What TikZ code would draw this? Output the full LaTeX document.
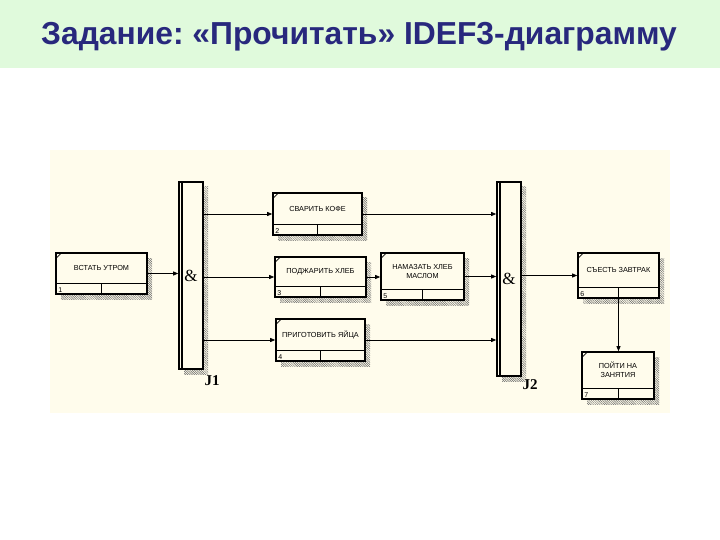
\documentclass[tikz,border=0pt]{standalone}
\usepackage{fontspec}
\setmainfont{Liberation Sans}
\newfontfamily\jfont{Liberation Serif}
\usetikzlibrary{arrows.meta,calc,shadows,patterns.meta}
\definecolor{bgcream}{RGB}{255,252,236}
\definecolor{bandgreen}{RGB}{224,250,220}
\definecolor{titleblue}{RGB}{40,40,125}
\frenchspacing

\begin{document}
\begin{tikzpicture}[x=1pt,y=-1pt,
    hatch/.style={drop shadow={shadow xshift=5pt,shadow yshift=-5pt,opacity=1,
        pattern={Lines[angle=-45,distance=1.6pt,line width=0.5pt]},pattern color=black!60}},
    uob/.style={draw,line width=1.6pt,fill=bgcream,hatch,inner sep=0pt},
    jbox/.style={uob,minimum width=24pt,font=\jfont\fontsize{17}{17}\selectfont},
    uobtext/.style={font=\fontsize{7.3}{9}\selectfont,align=center,inner sep=0pt},
    uobnum/.style={font=\fontsize{7}{7}\selectfont,anchor=south west,inner sep=0pt},
    jlabel/.style={font=\jfont\bfseries\fontsize{15}{15}\selectfont,inner sep=0pt},
    flow/.style={line width=0.8pt,-{Triangle[length=5pt,width=4pt]}}]

        \useasboundingbox (0,0) rectangle (720,540);
        \fill[bandgreen] (0,0) rectangle (720,68);
        \fill[bgcream] (50,150) rectangle (670,413);

        \node[font=\bfseries\fontsize{31.8}{31.8}\selectfont,text=titleblue,anchor=base] (title) at (359,45) {Задание: «Прочитать» IDEF3-диаграмму};

        % units of behaviour
        \node[uob,minimum width=91pt,minimum height=41pt] (A) at (101.5,273.5) {};
        \node[uob,minimum width=89pt,minimum height=42pt] (B) at (317.5,214) {};
        \node[uob,minimum width=91pt,minimum height=40pt] (C) at (320.5,277) {};
        \node[uob,minimum width=89pt,minimum height=42pt] (D) at (320.5,340) {};
        \node[uob,minimum width=83pt,minimum height=47pt] (E) at (422.5,276.5) {};
        \node[uob,minimum width=81pt,minimum height=45pt] (F) at (618.5,275.5) {};
        \node[uob,minimum width=72pt,minimum height=47pt] (G) at (618,375.5) {};

        % junctions
        \node[jbox,minimum height=187pt] (J1) at (191,275.5) {\&};
        \node[jbox,minimum height=194pt] (J2) at (509,279) {\&};
        \draw[line width=1.4pt] ([xshift=3.8pt]J1.north west) -- ([xshift=3.8pt]J1.south west);
        \draw[line width=1.4pt] ([xshift=3.8pt]J2.north west) -- ([xshift=3.8pt]J2.south west);
        \node[jlabel] (J1l) at (212,381) {J1};
        \node[jlabel] (J2l) at (530,385) {J2};

        \foreach \n/\txt/\k in {A/{ВСТАТЬ УТРОМ}/1, B/{СВАРИТЬ КОФЕ}/2,
                C/{ПОДЖАРИТЬ ХЛЕБ}/3, D/{ПРИГОТОВИТЬ ЯЙЦА}/4,
                E/{НАМАЗАТЬ ХЛЕБ\\МАСЛОМ}/5, F/{СЪЕСТЬ ЗАВТРАК}/6,
                G/{ПОЙТИ НА\\ЗАНЯТИЯ}/7} {
            \draw[line width=0.8pt] ([yshift=11pt]\n.south west) -- ([yshift=11pt]\n.south east);
            \draw[line width=0.8pt] ([yshift=11pt]\n.south) -- (\n.south);
            \draw[line width=0.6pt] ([shift={(1pt,-6pt)}]\n.north west) -- ([shift={(6pt,-1pt)}]\n.north west);
            \node[uobtext] (\n-t) at ($(\n.north)!0.5!([yshift=11pt]\n.south)$) {\txt};
            \node[uobnum] (\n-k) at ([shift={(3pt,2pt)}]\n.south west) {\k};
        }

        \draw[flow] (A.east) -- (A.east -| J1.west);
        \draw[flow] (J1.east |- B.west) -- (B.west);
        \draw[flow] (J1.east |- C.west) -- (C.west);
        \draw[flow] (J1.east |- D.west) -- (D.west);
        \draw[flow] (B.east) -- (B.east -| J2.west);
        \draw[flow] (C.east) -- (C.east -| E.west);
        \draw[flow] (E.east) -- (E.east -| J2.west);
        \draw[flow] (D.east) -- (D.east -| J2.west);
        \draw[flow] (J2.east |- F.west) -- (F.west);
        \draw[flow] (F.south) -- (F.south |- G.north);

    \end{tikzpicture}
\end{document}
